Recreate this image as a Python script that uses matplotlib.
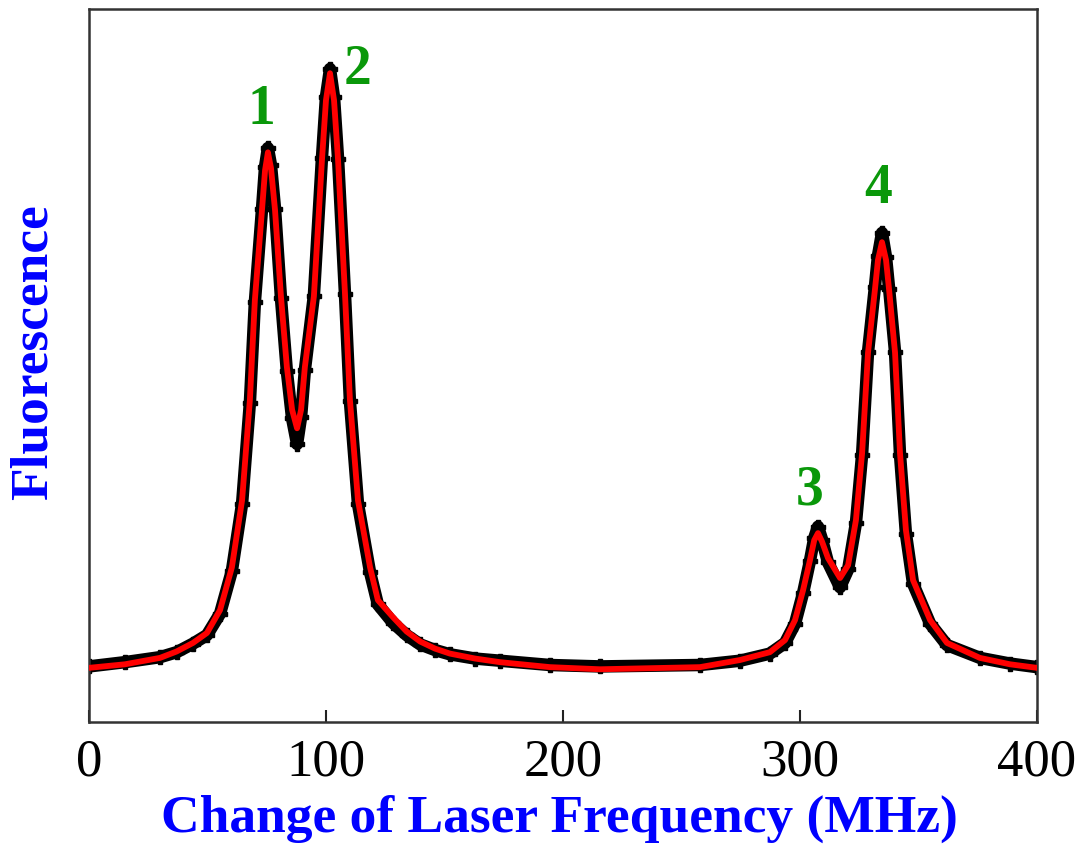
import numpy as np
import matplotlib
matplotlib.use('Agg')
import matplotlib.pyplot as plt

# values (frequency in MHz, fluorescence in arb. units)
freq = [0.0, 15.2, 30.0, 37.0, 43.9, 49.8, 55.3, 60.3, 64.6, 67.9, 70.0, 73.0,
        74.3, 75.5, 76.8, 78.5, 81.0, 83.5, 85.7, 87.8, 89.5, 91.1, 94.9,
        98.3, 100.0, 101.7, 103.4, 105.1, 108.0, 110.1, 113.5, 118.6, 121.9,
        128.3, 134.0, 139.7, 146.0, 152.3, 163.0, 173.4, 194.5, 215.6, 257.8,
        274.7, 287.3, 293.7, 297.9, 301.3, 304.2, 306.0, 307.6, 309.3, 311.8,
        316.9, 320.3, 323.6, 326.2, 328.7, 331.6, 332.9, 334.6, 336.3, 337.6,
        340.1, 342.2, 344.7, 347.7, 354.9, 362.0, 375.9, 388.6, 400.0]
fit = [7.6, 8.1, 9.0, 9.9, 11.1, 12.5, 15.7, 21.7, 31.1, 45.2, 59.2, 71.8,
       77.4, 79.9, 77.7, 71.8, 59.7, 49.8, 43.8, 41.2, 43.8, 49.8, 59.7,
       78.8, 87.2, 91.0, 87.2, 78.8, 60.2, 45.2, 31.1, 21.7, 17.1,
       14.7, 12.7, 11.3, 10.3, 9.6, 8.9, 8.4, 7.7, 7.4, 7.7,
       8.7, 9.8, 11.5, 14.3, 18.5, 22.7, 25.5, 26.5, 25.3, 23.0,
       20.2, 22.0, 28.3, 37.7, 51.8, 60.6, 64.8, 67.3, 64.8, 60.6,
       51.8, 37.7, 26.9, 19.9, 14.3, 11.1, 9.0, 8.1, 7.6]
# measured points (scatter a little off the fit, mostly at the dips and tips)
data = [7.8, 8.4, 9.1, 9.8, 11.0, 12.2, 15.2, 21.2, 30.6, 44.8, 58.9, 71.9,
        77.9, 80.5, 78.1, 72.0, 59.5, 49.2, 42.6, 39.0, 42.8, 49.4, 59.8,
        79.1, 87.7, 91.6, 87.6, 79.0, 60.1, 45.0, 30.6, 21.0, 16.5,
        13.9, 12.2, 10.9, 10.1, 9.5, 8.9, 8.6, 8.0, 7.8, 8.0,
        8.6, 9.6, 11.1, 13.8, 18.1, 22.6, 25.8, 27.4, 25.6, 22.4,
        18.9, 21.4, 27.9, 37.5, 51.9, 61.0, 65.4, 68.6, 65.2, 60.8,
        51.9, 37.5, 26.4, 19.4, 13.8, 10.8, 9.0, 8.2, 7.7]

peak_labels = ['1', '2', '3', '4']
label_x = [72.6, 113.5, 304.2, 332.9]
label_y = [85.9, 91.5, 32.5, 74.7]
xticks = [0, 100, 200, 300, 400]

plt.rcParams['font.family'] = ['Liberation Serif', 'DejaVu Serif']

fig = plt.figure(figsize=(10.81, 8.44), dpi=100)
ax = fig.add_axes([0.0823, 0.1445, 0.877, 0.8448])

ax.plot(freq, data, color='black', lw=9, solid_capstyle='round',
        solid_joinstyle='round', zorder=2)
ax.plot(freq, data, ls='none', marker='P', ms=10, color='black', zorder=2)
ax.plot(freq, fit, color='red', lw=4.2, solid_joinstyle='round', zorder=3)

for lab, lx, ly in zip(peak_labels, label_x, label_y):
    ax.text(lx, ly, lab, color='#0a980a', fontsize=40, fontweight='bold',
            ha='center', va='center')

ax.set_xlim(0, 400)
ax.set_ylim(0, 100)
ax.set_xticks(xticks)
ax.set_yticks([])
ax.tick_params(axis='x', direction='in', length=9, width=1.5, pad=12,
               labelsize=38, color='#222222')
for s in ax.spines.values():
    s.set_linewidth(1.8)
    s.set_color('#333333')

ax.set_xlabel('Change of Laser Frequency (MHz)', color='#0000ff', fontsize=38.5,
              fontweight='bold')
ax.set_ylabel('Fluorescence', color='#0000ff', fontsize=38.5,
              fontweight='bold')
ax.xaxis.set_label_coords(0.4958, -0.102)
ax.yaxis.set_label_coords(-0.033, 0.519)

fig.savefig('out.png', dpi=100)
